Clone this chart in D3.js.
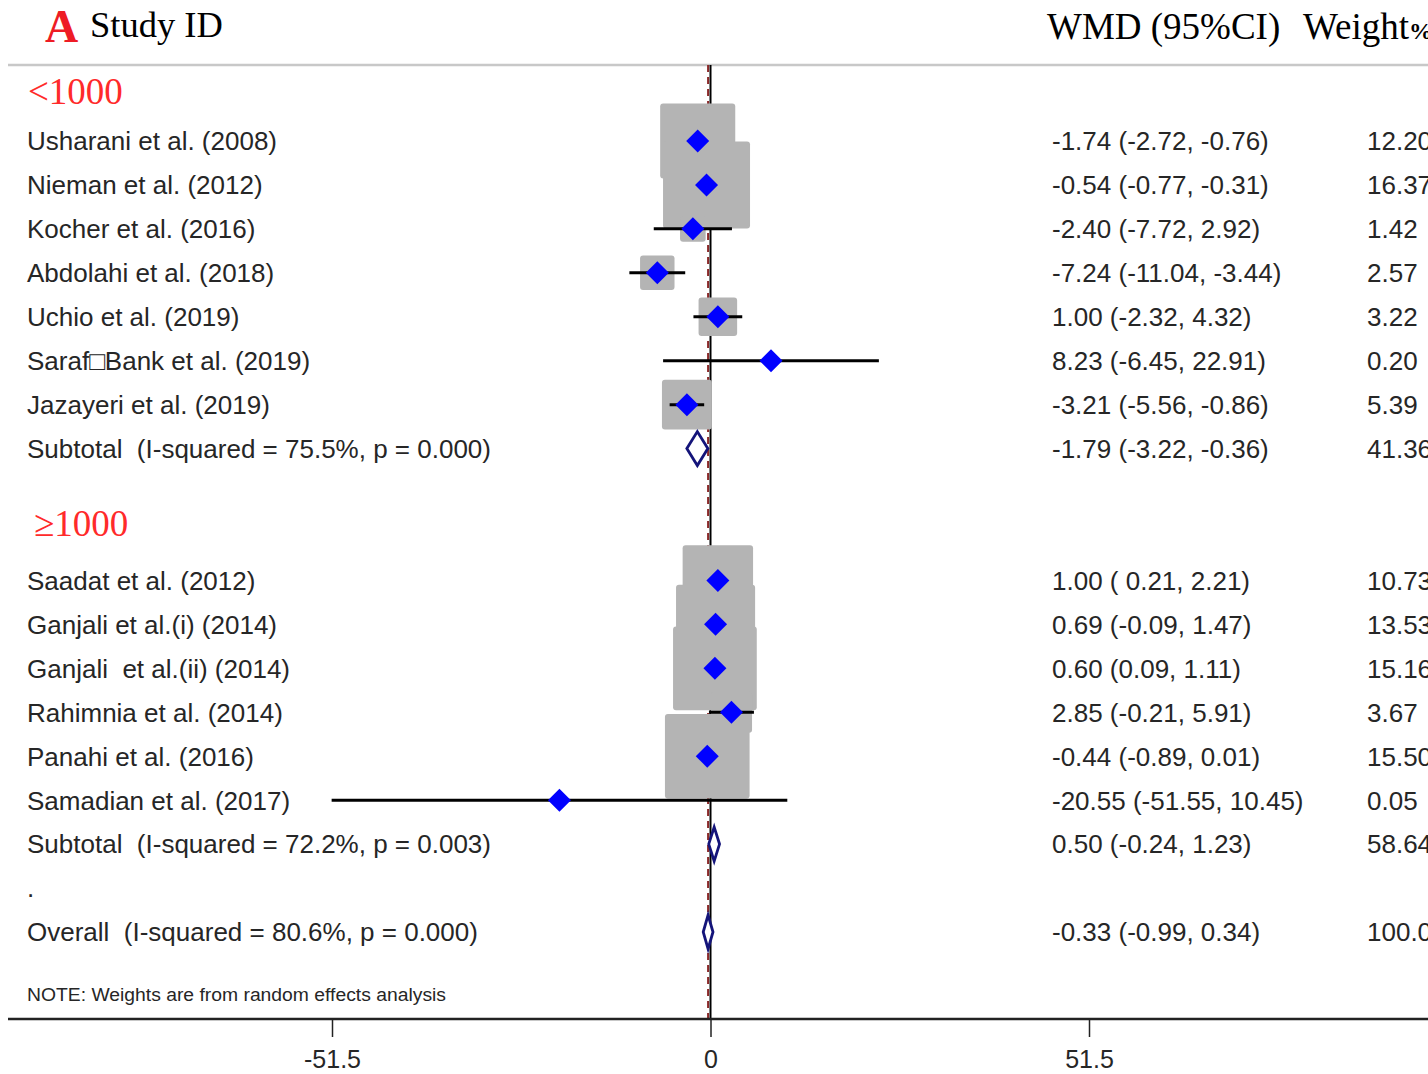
<!DOCTYPE html>
<html>
<head>
<meta charset="utf-8">
<script src="https://cdn.jsdelivr.net/npm/d3@7"></script>
<style>
  html, body { margin: 0; padding: 0; background: #fff; }
  svg { display: block; }
  svg text { white-space: pre; }
</style>
</head>
<body>
<svg id="chart" width="1428" height="1074"></svg>
<script>
// ---------------- DATA ----------------
const groupNames = ["<1000", "\u22651000"];

const studyLabels = [
  "Usharani et al. (2008)",
  "Nieman et al. (2012)",
  "Kocher et al. (2016)",
  "Abdolahi et al. (2018)",
  "Uchio et al. (2019)",
  "Saraf\u25A1Bank et al. (2019)",
  "Jazayeri et al. (2019)",
  "Saadat et al. (2012)",
  "Ganjali et al.(i) (2014)",
  "Ganjali  et al.(ii) (2014)",
  "Rahimnia et al. (2014)",
  "Panahi et al. (2016)",
  "Samadian et al. (2017)"
];
const studyGroup = [0, 0, 0, 0, 0, 0, 0, 1, 1, 1, 1, 1, 1];
const studyES = [-1.74, -0.54, -2.40, -7.24, 1.00, 8.23, -3.21, 1.00, 0.69, 0.60, 2.85, -0.44, -20.55];
const studyLo = [-2.72, -0.77, -7.72, -11.04, -2.32, -6.45, -5.56, 0.21, -0.09, 0.09, -0.21, -0.89, -51.55];
const studyHi = [-0.76, -0.31, 2.92, -3.44, 4.32, 22.91, -0.86, 2.21, 1.47, 1.11, 5.91, 0.01, 10.45];
const studyWeight = [12.20, 16.37, 1.42, 2.57, 3.22, 0.20, 5.39, 10.73, 13.53, 15.16, 3.67, 15.50, 0.05];
const studyCI = [
  "-1.74 (-2.72, -0.76)",
  "-0.54 (-0.77, -0.31)",
  "-2.40 (-7.72, 2.92)",
  "-7.24 (-11.04, -3.44)",
  "1.00 (-2.32, 4.32)",
  "8.23 (-6.45, 22.91)",
  "-3.21 (-5.56, -0.86)",
  "1.00 ( 0.21, 2.21)",
  "0.69 (-0.09, 1.47)",
  "0.60 (0.09, 1.11)",
  "2.85 (-0.21, 5.91)",
  "-0.44 (-0.89, 0.01)",
  "-20.55 (-51.55, 10.45)"
];

const subtotalLabels = ["Subtotal  (I-squared = 75.5%, p = 0.000)", "Subtotal  (I-squared = 72.2%, p = 0.003)"];
const subtotalES = [-1.79, 0.50];
const subtotalLo = [-3.22, -0.24];
const subtotalHi = [-0.36, 1.23];
const subtotalWeight = [41.36, 58.64];
const subtotalCI = ["-1.79 (-3.22, -0.36)", "0.50 (-0.24, 1.23)"];

const overallLabel = "Overall  (I-squared = 80.6%, p = 0.000)";
const overallES = -0.33;
const overallLo = -0.99;
const overallHi = 0.34;
const overallWeight = 100.00;
const overallCI = "-0.33 (-0.99, 0.34)";

const tickValues = [-51.5, 0, 51.5];
const tickLabels = ["-51.5", "0", "51.5"];
const noteText = "NOTE: Weights are from random effects analysis";

// ---------------- LAYOUT ----------------
const W = 1428, H = 1074;
const svg = d3.select("#chart");
const sans = "'Liberation Sans', Arial, sans-serif";
const serif = "'Liberation Serif', 'Times New Roman', serif";
const labelSize = 26;
const textColor = "#262626";

// build rows
const rows = [];
let r = 0;
groupNames.forEach((g, gi) => {
  rows.push({ type: "header", label: g, row: r++ });
  studyLabels.forEach((lab, i) => {
    if (studyGroup[i] !== gi) return;
    rows.push({ type: "study", label: lab, es: studyES[i], lo: studyLo[i], hi: studyHi[i],
                w: studyWeight[i], ci: studyCI[i], row: r++ });
  });
  rows.push({ type: "pooled", label: subtotalLabels[gi], es: subtotalES[gi], lo: subtotalLo[gi],
              hi: subtotalHi[gi], w: subtotalWeight[gi], ci: subtotalCI[gi], row: r++ });
  if (gi < groupNames.length - 1) r++; // blank row
});
rows.push({ type: "dot", label: ".", row: r++ });
rows.push({ type: "pooled", label: overallLabel, es: overallES, lo: overallLo, hi: overallHi,
            w: overallWeight, ci: overallCI, row: r++ });
const noteRow = r + 0.42;

const x = d3.scaleLinear().domain([-51.5, 51.5]).range([332, 1089]);
const y = d3.scaleLinear().domain([0, 19]).range([97, 932]);
const boxSide = d3.scaleSqrt().domain([0, 1]).range([0, 21.5]);

const headerLineY = 65, axisY = 1019;

// header
svg.append("text").attr("x", 45).attr("y", 42)
  .attr("font-family", serif).attr("font-weight", "bold").attr("font-size", 46)
  .attr("fill", "#ee1c25").text("A");
svg.append("text").attr("x", 90).attr("y", 37)
  .attr("font-family", serif).attr("font-size", 36.5).attr("fill", "#000").text("Study ID");
svg.append("text").attr("x", 1047).attr("y", 39)
  .attr("font-family", serif).attr("font-size", 37).attr("fill", "#000").text("WMD (95%CI)");
const wt = svg.append("text").attr("x", 1303).attr("y", 39)
  .attr("font-family", serif).attr("font-size", 37).attr("fill", "#000");
wt.append("tspan").text("Weight");
wt.append("tspan").attr("font-size", 24).attr("font-weight", "bold").text("%");

svg.append("line").attr("x1", 8).attr("x2", W).attr("y1", headerLineY).attr("y2", headerLineY)
  .attr("stroke", "#c8c8c8").attr("stroke-width", 2.5);

// reference lines (beneath boxes)
svg.append("line").attr("x1", x(0)).attr("x2", x(0)).attr("y1", headerLineY).attr("y2", axisY)
  .attr("stroke", "#000").attr("stroke-width", 2);
svg.append("line").attr("x1", x(overallES)).attr("x2", x(overallES)).attr("y1", headerLineY).attr("y2", axisY)
  .attr("stroke", "#8b2a2a").attr("stroke-width", 2).attr("stroke-dasharray", "7,5");

const studies = rows.filter(d => d.type === "study");
const pooled = rows.filter(d => d.type === "pooled");

// weight boxes
svg.append("g").selectAll("rect").data(studies).join("rect")
  .attr("x", d => x(d.es) - boxSide(d.w) / 2)
  .attr("y", d => y(d.row) - boxSide(d.w) / 2)
  .attr("width", d => boxSide(d.w))
  .attr("height", d => boxSide(d.w))
  .attr("rx", 3)
  .attr("fill", "#b4b4b4");

// CI lines
svg.append("g").selectAll("line").data(studies).join("line")
  .attr("x1", d => x(d.lo)).attr("x2", d => x(d.hi))
  .attr("y1", d => y(d.row)).attr("y2", d => y(d.row))
  .attr("stroke", "#000").attr("stroke-width", 3);

// point diamonds
const ps = 11.5;
svg.append("g").selectAll("path").data(studies).join("path")
  .attr("d", d => {
    const cx = x(d.es), cy = y(d.row);
    return `M${cx - ps},${cy}L${cx},${cy - ps}L${cx + ps},${cy}L${cx},${cy + ps}Z`;
  })
  .attr("fill", "#0000ff");

// pooled diamonds
const dh = 17;
svg.append("g").selectAll("path").data(pooled).join("path")
  .attr("d", d => {
    const cy = y(d.row);
    return `M${x(d.lo)},${cy}L${x(d.es)},${cy - dh}L${x(d.hi)},${cy}L${x(d.es)},${cy + dh}Z`;
  })
  .attr("fill", "#fff").attr("stroke", "#14147a").attr("stroke-width", 2.8);

// left labels
const textRows = rows.filter(d => d.type !== "header");
svg.append("g").selectAll("text").data(textRows).join("text")
  .attr("x", 27).attr("y", d => y(d.row)).attr("dy", "0.36em")
  .attr("xml:space", "preserve")
  .attr("font-family", sans).attr("font-size", labelSize).attr("fill", textColor)
  .text(d => d.label);

// group headers
const hdrOffset = [-6, -13];
svg.append("g").selectAll("text").data(rows.filter(d => d.type === "header")).join("text")
  .attr("x", (d, i) => i === 0 ? 28 : 34)
  .attr("y", (d, i) => y(d.row) + hdrOffset[i]).attr("dy", "0.34em")
  .attr("font-family", serif).attr("font-size", 37).attr("fill", "#ff2a2a")
  .text(d => d.label);

// CI text
const valRows = rows.filter(d => d.type === "study" || d.type === "pooled");
svg.append("g").selectAll("text").data(valRows).join("text")
  .attr("x", 1052).attr("y", d => y(d.row)).attr("dy", "0.36em")
  .attr("xml:space", "preserve")
  .attr("font-family", sans).attr("font-size", labelSize).attr("fill", textColor)
  .text(d => d.ci);

// weights
const fmtW = d3.format(".2f");
svg.append("g").selectAll("text").data(valRows).join("text")
  .attr("x", 1367).attr("y", d => y(d.row)).attr("dy", "0.36em")
  .attr("font-family", sans).attr("font-size", labelSize).attr("fill", textColor)
  .text(d => fmtW(d.w));

// note
svg.append("text").attr("x", 27).attr("y", y(noteRow)).attr("dy", "0.36em")
  .attr("font-family", sans).attr("font-size", 17.5).attr("fill", textColor)
  .attr("textLength", 419).attr("lengthAdjust", "spacingAndGlyphs")
  .text(noteText);

// axis
svg.append("line").attr("x1", 8).attr("x2", W).attr("y1", axisY).attr("y2", axisY)
  .attr("stroke", "#222").attr("stroke-width", 2.5);
const axis = d3.axisBottom(x).tickValues(tickValues)
  .tickFormat((d, i) => tickLabels[i]).tickSize(18).tickPadding(13);
const ag = svg.append("g").attr("transform", `translate(0,${axisY})`).call(axis);
ag.select(".domain").remove();
ag.selectAll(".tick line").attr("stroke", "#222").attr("stroke-width", 1.5);
ag.selectAll(".tick text").attr("font-family", sans).attr("font-size", 25).attr("fill", textColor);
</script>
</body>
</html>
